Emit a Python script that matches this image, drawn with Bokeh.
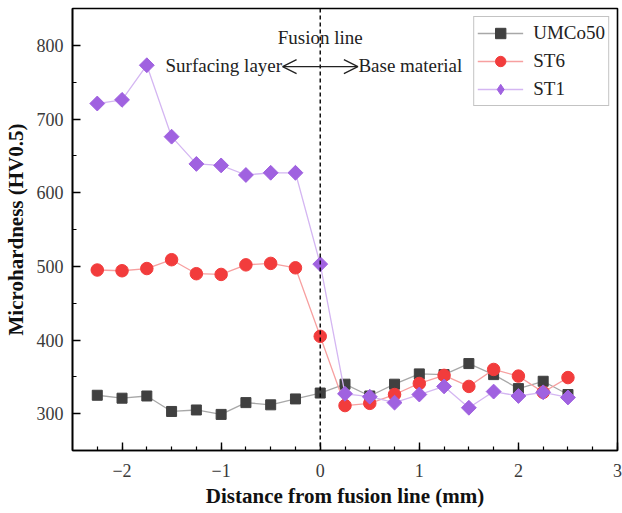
import math
from bokeh.plotting import figure
from bokeh.models import (ColumnDataSource, Legend, LegendItem, Span, Arrow, OpenHead,
                          Label, Range1d, FixedTicker)
from bokeh.embed import file_html
from bokeh.resources import INLINE

distance = [-2.25, -2.0, -1.75, -1.5, -1.25, -1.0, -0.75, -0.5, -0.25, 0.0,
            0.25, 0.5, 0.75, 1.0, 1.25, 1.5, 1.75, 2.0, 2.25, 2.5]
umco50 = [325, 321, 324, 303, 305, 299, 315, 312, 320, 328,
          340, 324, 340, 354, 353, 368, 353, 334, 344, 326]
st6 = [495, 494, 497, 509, 490, 489, 502, 504, 498, 405,
       311, 314, 326, 341, 352, 337, 360, 351, 329, 349]
st1 = [721, 726, 773, 676, 639, 637, 624, 627, 627, 503,
       327, 323, 315, 326, 337, 308, 330, 324, 329, 322]

x_ticks = [-2, -1, 0, 1, 2, 3]
y_ticks = [300, 400, 500, 600, 700, 800]

SERIF = "Liberation Serif"

p = figure(width=622, height=513, output_backend="svg", toolbar_location=None,
           x_range=Range1d(-2.5, 3.0), y_range=Range1d(250, 850),
           min_border_left=72, min_border_right=5, min_border_top=8, min_border_bottom=63)
p.background_fill_color = "white"
p.border_fill_color = "white"
p.grid.visible = False
p.outline_line_color = "black"
p.outline_line_width = 1.6

for ax in (p.xaxis[0], p.yaxis[0]):
    ax.axis_line_width = 1.6
    ax.axis_line_color = "black"
    ax.major_tick_in = 8
    ax.major_tick_out = 0
    ax.minor_tick_in = 4
    ax.minor_tick_out = 0
    ax.major_tick_line_width = 1.4
    ax.minor_tick_line_width = 1.2
    ax.major_label_text_font = SERIF
    ax.major_label_text_font_size = "18px"
    ax.major_label_text_color = "#3a3a3a"
    ax.axis_label_text_font = SERIF
    ax.axis_label_text_font_style = "bold"
    ax.axis_label_text_font_size = "21px"
    ax.axis_label_text_color = "#111111"

p.xaxis.ticker = FixedTicker(ticks=x_ticks, minor_ticks=[-2.25 + 0.25 * i for i in range(22)])
p.yaxis.ticker = FixedTicker(ticks=y_ticks, minor_ticks=[250 + 50 * i for i in range(13)])
p.xaxis.major_label_overrides = {t: ("\u2212" + str(abs(t)) if t < 0 else str(t)) for t in x_ticks}
p.xaxis.axis_label = "Distance from fusion line (mm)"
p.yaxis.axis_label = "Microhardness (HV0.5)"
p.xaxis.major_label_standoff = 13
p.yaxis.major_label_standoff = 9
p.xaxis.axis_label_standoff = 4
p.yaxis.axis_label_standoff = 6

src = ColumnDataSource(dict(x=distance, a=umco50, b=st6, c=st1))

# fusion line
p.add_layout(Span(location=0, dimension="height", line_color="black",
                  line_dash="4 3", line_width=1.4))
for xe in (-0.38, 0.38):
    p.add_layout(Arrow(end=OpenHead(size=14, line_width=1.3, line_color="#222222"),
                       x_start=0, y_start=771, x_end=xe, y_end=771,
                       line_width=1.3, line_color="#222222"))

l1 = p.line("x", "a", source=src, line_color="#a8a8a8", line_width=1.3)
m1 = p.scatter("x", "a", source=src, marker="square", size=10,
               fill_color="#404040", line_color="#404040")
l2 = p.line("x", "b", source=src, line_color="#f7a0a0", line_width=1.3)
m2 = p.scatter("x", "b", source=src, marker="circle", size=12.5,
               fill_color="#f23c3c", line_color="#f23c3c")
l3 = p.line("x", "c", source=src, line_color="#d4b6f2", line_width=1.3)
# narrow diamond hidden under the rotated squares; used as the legend swatch
m3_leg = p.scatter("x", "c", source=src, marker="diamond", size=13,
                   fill_color="#a062e0", line_color="#a062e0")
m3 = p.scatter("x", "c", source=src, marker="square", size=10.5, angle=math.pi / 4,
               fill_color="#a062e0", line_color="#a062e0")

p.add_layout(Label(x=0, y=811, text="Fusion line", text_font=SERIF, text_font_size="19px",
                   text_align="center", text_baseline="middle", text_color="#222222"))
p.add_layout(Label(x=-0.385, y=772, text="Surfacing layer", text_font=SERIF,
                   text_font_size="19px", text_align="right", text_baseline="middle",
                   text_color="#222222"))
p.add_layout(Label(x=0.385, y=772, text="Base material", text_font=SERIF,
                   text_font_size="19px", text_align="left", text_baseline="middle",
                   text_color="#222222"))

legend = Legend(items=[LegendItem(label="UMCo50", renderers=[l1, m1]),
                       LegendItem(label="ST6", renderers=[l2, m2]),
                       LegendItem(label="ST1", renderers=[l3, m3_leg])],
                location="top_right")
legend.margin = 8
legend.padding = 3
legend.spacing = 2
legend.glyph_width = 46
legend.glyph_height = 26
legend.label_height = 26
legend.label_standoff = 10
legend.label_text_font = SERIF
legend.label_text_font_size = "19px"
legend.label_text_color = "#222222"
legend.border_line_color = "#888888"
legend.border_line_width = 1.5
legend.background_fill_alpha = 1.0
p.add_layout(legend)

open("out.html", "w").write(file_html(p, INLINE))
